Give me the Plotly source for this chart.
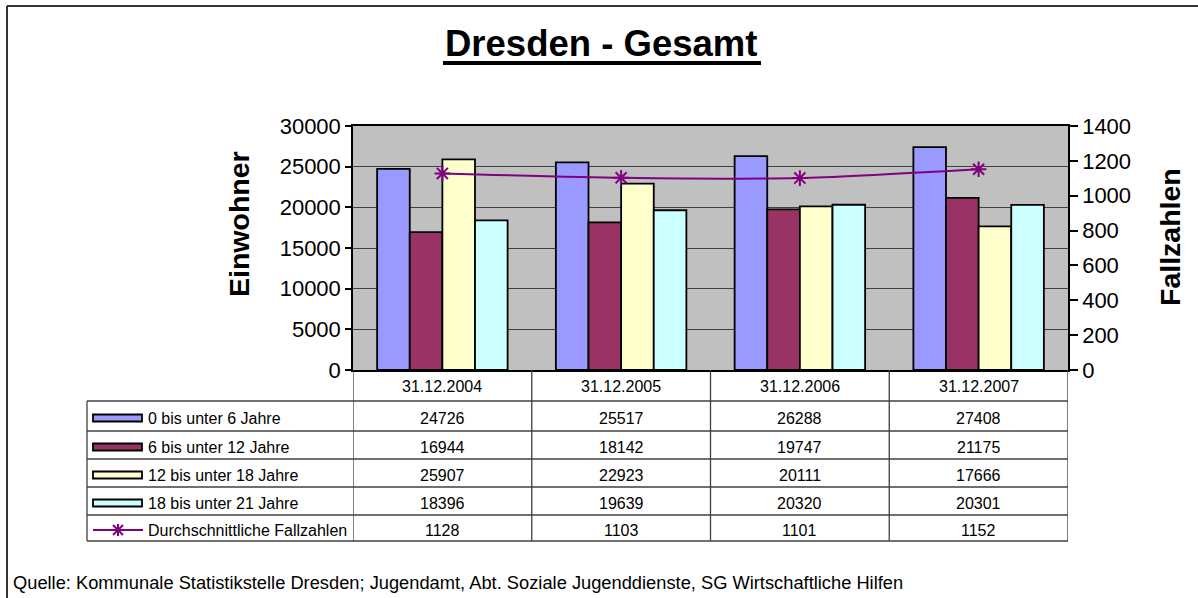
import plotly.graph_objects as go

categories = ["31.12.2004", "31.12.2005", "31.12.2006", "31.12.2007"]
series_names = ["0 bis unter 6 Jahre", "6 bis unter 12 Jahre",
                "12 bis unter 18 Jahre", "18 bis unter 21 Jahre"]
age_0_6 = [24726, 25517, 26288, 27408]
age_6_12 = [16944, 18142, 19747, 21175]
age_12_18 = [25907, 22923, 20111, 17666]
age_18_21 = [18396, 19639, 20320, 20301]
line_name = "Durchschnittliche Fallzahlen"
fallzahlen = [1128, 1103, 1101, 1152]

bar_colors = ["#9999FF", "#993366", "#FFFFCC", "#CCFFFF"]
line_color = "#800080"
FONT = "Arial, 'Liberation Sans', sans-serif"

W, H = 1198, 598
L, R, T, B = 353, 1068, 126, 370  # plot area in px


def px_x(p):
    return (p - L) / (R - L)


def px_y(p):
    return (B - p) / (B - T)


fig = go.Figure()
bar_series = [age_0_6, age_6_12, age_12_18, age_18_21]
for name, vals, col in zip(series_names, bar_series, bar_colors):
    fig.add_trace(go.Bar(x=categories, y=vals, name=name,
                         marker=dict(color=col, line=dict(color="black", width=1.8)),
                         showlegend=False))
fig.add_trace(go.Scatter(x=categories, y=fallzahlen, name=line_name, yaxis="y2",
                         mode="lines+markers",
                         line=dict(color=line_color, width=2, shape="spline", smoothing=0.6),
                         marker=dict(symbol="asterisk-open", size=13,
                                     line=dict(color=line_color, width=2)),
                         showlegend=False))

shapes = []
annotations = []
grid_col = "#404040"

# outer frame
shapes.append(dict(type="line", xref="paper", yref="paper",
                   x0=px_x(7), x1=px_x(1198), y0=px_y(6), y1=px_y(6),
                   line=dict(color="#333333", width=2)))
shapes.append(dict(type="line", xref="paper", yref="paper",
                   x0=px_x(7), x1=px_x(7), y0=px_y(6), y1=px_y(600),
                   line=dict(color="#333333", width=2)))

# title
annotations.append(dict(text="<b>Dresden - Gesamt</b>", xref="paper", yref="paper",
                        x=px_x(601), y=px_y(44), showarrow=False,
                        xanchor="center", yanchor="middle",
                        font=dict(family=FONT, size=36.5, color="black")))
shapes.append(dict(type="line", xref="paper", yref="paper",
                   x0=px_x(443), x1=px_x(761), y0=px_y(63), y1=px_y(63),
                   line=dict(color="black", width=4)))

# axis titles
annotations.append(dict(text="<b>Einwohner</b>", xref="paper", yref="paper",
                        x=px_x(239), y=px_y(224), textangle=-90, showarrow=False,
                        xanchor="center", yanchor="middle",
                        font=dict(family=FONT, size=28.5, color="black")))
annotations.append(dict(text="<b>Fallzahlen</b>", xref="paper", yref="paper",
                        x=px_x(1170), y=px_y(237), textangle=-90, showarrow=False,
                        xanchor="center", yanchor="middle",
                        font=dict(family=FONT, size=28.5, color="black")))

# data table
row_lines = [401, 431, 459, 487, 515, 541]
tab_col = "#404040"
for i, yy in enumerate(row_lines):
    shapes.append(dict(type="line", xref="paper", yref="paper",
                       x0=px_x(87), x1=px_x(R), y0=px_y(yy), y1=px_y(yy),
                       line=dict(color=tab_col, width=1.3)))
shapes.append(dict(type="line", xref="paper", yref="paper",
                   x0=px_x(87), x1=px_x(87), y0=px_y(401), y1=px_y(541),
                   line=dict(color=tab_col, width=1.3)))
for k in range(len(categories) + 1):
    shapes.append(dict(type="line", xref="x", yref="paper",
                       x0=k - 0.5, x1=k - 0.5, y0=px_y(B), y1=px_y(541),
                       line=dict(color=tab_col, width=1.3)))

tfont = dict(family=FONT, size=16, color="black")
for k, cat in enumerate(categories):
    annotations.append(dict(text=cat, xref="x", yref="paper", x=k, y=px_y(386),
                            showarrow=False, xanchor="center", yanchor="middle", font=tfont))

row_values = bar_series + [fallzahlen]
row_names = series_names + [line_name]
for r, (nm, vals) in enumerate(zip(row_names, row_values)):
    yc = (row_lines[r] + row_lines[r + 1]) / 2 + 2
    for k, v in enumerate(vals):
        annotations.append(dict(text=str(v), xref="x", yref="paper", x=k, y=px_y(yc),
                                showarrow=False, xanchor="center", yanchor="middle",
                                font=tfont))
    annotations.append(dict(text=nm, xref="paper", yref="paper", x=px_x(146), y=px_y(yc),
                            showarrow=False, xanchor="left", yanchor="middle", font=tfont))
    if r < 4:
        shapes.append(dict(type="rect", xref="paper", yref="paper",
                           x0=px_x(93), x1=px_x(142), y0=px_y(yc - 3.5), y1=px_y(yc + 3.5),
                           fillcolor=bar_colors[r], line=dict(color="black", width=1.8)))
    else:
        shapes.append(dict(type="line", xref="paper", yref="paper",
                           x0=px_x(93), x1=px_x(143), y0=px_y(yc), y1=px_y(yc),
                           line=dict(color=line_color, width=2)))
        cx = 118
        for (dx0, dy0, dx1, dy1) in [(-5, -5, 5, 5), (-5, 5, 5, -5), (0, -6, 0, 6)]:
            shapes.append(dict(type="line", xref="paper", yref="paper",
                               x0=px_x(cx + dx0), x1=px_x(cx + dx1),
                               y0=px_y(yc + dy0), y1=px_y(yc + dy1),
                               line=dict(color=line_color, width=2)))

# source
annotations.append(dict(text="Quelle: Kommunale Statistikstelle Dresden; Jugendamt, Abt. Soziale Jugenddienste, SG Wirtschaftliche Hilfen",
                        xref="paper", yref="paper", x=px_x(11), y=px_y(582),
                        showarrow=False, xanchor="left", yanchor="middle",
                        font=dict(family=FONT, size=18.3, color="black")))

fig.update_layout(
    width=W, height=H,
    margin=dict(l=L, r=W - R, t=T, b=H - B, pad=0),
    paper_bgcolor="white", plot_bgcolor="#C0C0C0",
    barmode="group", bargap=0.27, bargroupgap=0,
    font=dict(family=FONT, color="black"),
    xaxis=dict(type="category", range=[-0.5, 3.5], showticklabels=False, ticks="",
               showline=True, linecolor="black", linewidth=2, mirror=True,
               showgrid=False, zeroline=False, fixedrange=True),
    yaxis=dict(range=[0, 30000], dtick=5000, tickformat="d", ticks="outside", ticklen=6,
               tickcolor="black", tickwidth=1.5, showline=True, linecolor="black",
               linewidth=1.5, showgrid=True, gridcolor=grid_col, gridwidth=1,
               zeroline=False, tickfont=dict(family=FONT, size=22, color="black")),
    yaxis2=dict(range=[0, 1400], dtick=200, tickformat="d", overlaying="y", side="right",
                ticks="outside", ticklen=8, tickcolor="black", tickwidth=1.5,
                showline=True, linecolor="black", linewidth=1.5, showgrid=False,
                zeroline=False, tickfont=dict(family=FONT, size=22, color="black")),
    shapes=shapes, annotations=annotations,
)

fig.write_html("out.html", config={"displayModeBar": False},
               post_script="document.body.style.margin='0';document.body.style.overflow='hidden';")
